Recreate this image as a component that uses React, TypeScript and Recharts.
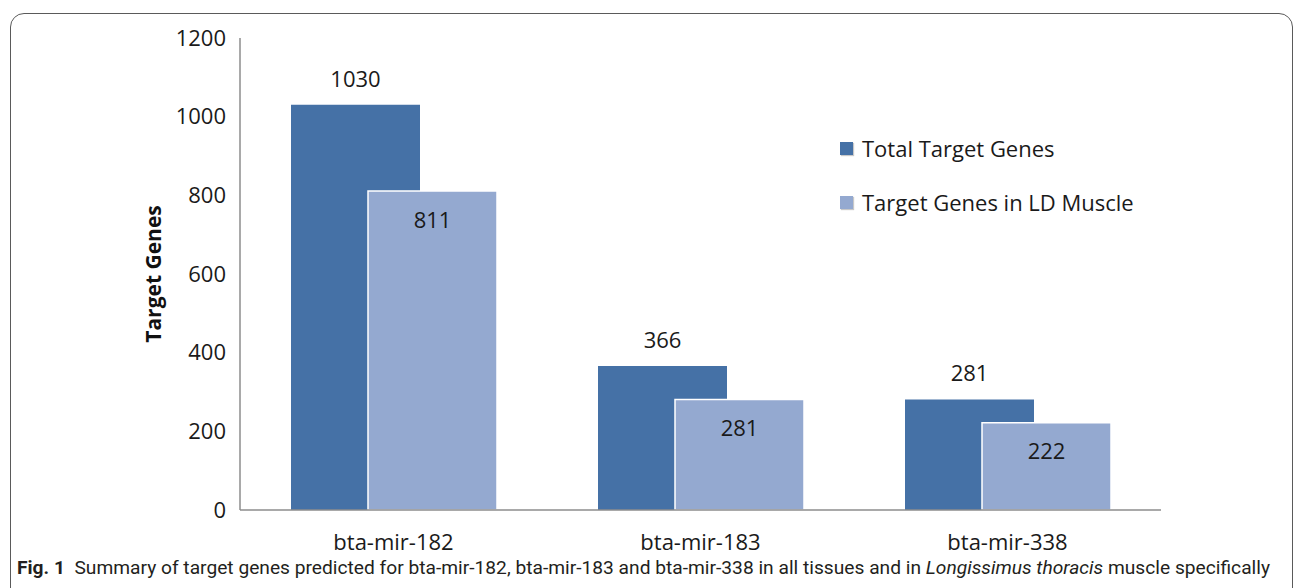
import React from "react";
import { BarChart, Bar, XAxis, YAxis, Legend, LabelList, Label } from "recharts";

const mirnas = ["bta-mir-182", "bta-mir-183", "bta-mir-338"];
const totalTargets = [1030, 366, 281];
const ldMuscleTargets = [811, 281, 222];
const yTicks = [0, 200, 400, 600, 800, 1000, 1200];
const seriesOrder = ["total", "ld"];

const DARK = "#4571a6";
const LIGHT = "#94a9d0";
const FONT = "'Open Sans', 'Noto Sans', sans-serif";

const data = mirnas.map((name, i) => ({
  name,
  total: totalTargets[i],
  ld: ldMuscleTargets[i],
}));

function LegendBox({ payload }: any) {
  const items = [...(payload || [])].sort(
    (a: any, b: any) => seriesOrder.indexOf(a.dataKey) - seriesOrder.indexOf(b.dataKey)
  );
  return (
    <div style={{ fontFamily: FONT }}>
      {items.map((p: any) => (
        <div
          key={p.value}
          style={{ display: "flex", alignItems: "center", height: 54, fontSize: 22, color: "#1a1a1a" }}
        >
          <span
            style={{
              display: "inline-block",
              width: 13,
              height: 13,
              background: p.color,
              boxShadow: "1px 1px 1px #c8c8c8",
              marginRight: 9,
            }}
          />
          {p.value}
        </div>
      ))}
    </div>
  );
}

function YTitle({ viewBox }: any) {
  const cx = viewBox.x + 13;
  const cy = viewBox.y + viewBox.height / 2;
  return (
    <text
      x={cx}
      y={cy}
      transform={`rotate(-90, ${cx}, ${cy})`}
      textAnchor="middle"
      dominantBaseline="central"
      fontFamily={FONT}
      fontWeight={700}
      fontSize={21}
      fill="#111"
    >
      Target Genes
    </text>
  );
}

export default function App() {
  return (
    <div
      style={{
        position: "absolute",
        left: 0,
        top: 0,
        width: 1293,
        height: 588,
        overflow: "hidden",
        background: "#fff",
      }}
    >
      <div
        style={{
          position: "absolute",
          left: 10,
          top: 13,
          width: 1283,
          height: 640,
          boxSizing: "border-box",
          border: "1.5px solid #5a5a5a",
          borderRadius: 14,
        }}
      />
      <div style={{ position: "absolute", left: 0, top: 0 }}>
        <BarChart
          width={1293}
          height={588}
          data={data}
          barSize={129}
          barGap={-52}
          margin={{ top: 38, right: 132, bottom: 28, left: 140 }}
        >
          <XAxis
            dataKey="name"
            axisLine={{ stroke: "#8c8c8c", strokeWidth: 1.5 }}
            tickLine={false}
            tickSize={0}
            tickMargin={24}
            height={50}
            tick={{ fontSize: 22, fill: "#1a1a1a", fontFamily: FONT }}
          />
          <YAxis
            domain={[0, 1200]}
            ticks={yTicks}
            interval={0}
            width={100}
            axisLine={{ stroke: "#8c8c8c", strokeWidth: 1.5 }}
            tickLine={false}
            tickSize={0}
            tickMargin={14}
            tick={{ fontSize: 22, fill: "#1a1a1a", fontFamily: FONT }}
          >
            <Label content={<YTitle />} />
          </YAxis>
          <Legend
            layout="vertical"
            align="center"
            verticalAlign="middle"
            content={<LegendBox />}
            wrapperStyle={{ left: 840, top: 121, width: 340, bottom: "auto", right: "auto" }}
          />
          <Bar dataKey="total" name="Total Target Genes" fill={DARK} isAnimationActive={false}>
            <LabelList
              dataKey="total"
              position="top"
              offset={18}
              style={{ fontSize: 22, fill: "#1a1a1a", fontFamily: FONT }}
            />
          </Bar>
          <Bar
            dataKey="ld"
            name="Target Genes in LD Muscle"
            fill={LIGHT}
            stroke="#ffffff"
            strokeWidth={1.5}
            isAnimationActive={false}
          >
            <LabelList
              dataKey="ld"
              position="insideTop"
              offset={21}
              style={{ fontSize: 22, fill: "#1a1a1a", fontFamily: FONT }}
            />
          </Bar>
        </BarChart>
      </div>
      <svg
        width={1293}
        height={588}
        style={{ position: "absolute", left: 0, top: 0, pointerEvents: "none" }}
      >
        <text
          x={17}
          y={574}
          textLength={1253}
          lengthAdjust="spacingAndGlyphs"
          fontFamily="Roboto, 'Open Sans', sans-serif"
          fontSize={18}
          fill="#231f20"
        >
          <tspan fontWeight={700}>Fig. 1</tspan>
          <tspan>{"\u00a0\u00a0Summary of target genes predicted for bta-mir-182, bta-mir-183 and bta-mir-338 in all tissues and in "}</tspan>
          <tspan fontStyle="italic">Longissimus thoracis</tspan>
          <tspan> muscle specifically</tspan>
        </text>
      </svg>
    </div>
  );
}
